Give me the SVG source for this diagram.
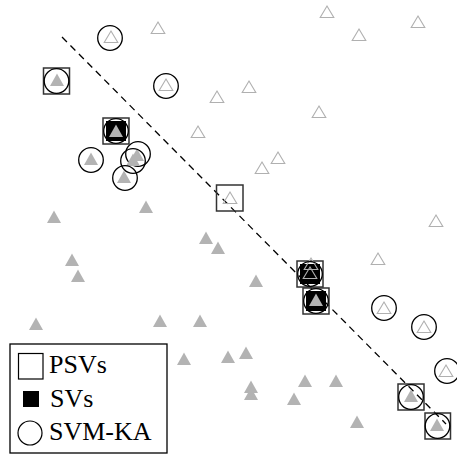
<svg xmlns="http://www.w3.org/2000/svg" xmlns:xlink="http://www.w3.org/1999/xlink" width="457" height="455" viewBox="0 0 457 455">
<style>
.tf{fill:#b3b3b3;stroke:none}
.to{fill:none;stroke:#b0b0b0;stroke-width:1.1}
.ps{fill:none;stroke:#333;stroke-width:1.5}
.sv{fill:#000;stroke:none}
.ka{fill:none;stroke:#000;stroke-width:1.3}
.bd{fill:none;stroke:#000;stroke-width:1.3;stroke-dasharray:7 5}
.lg{font-family:"Liberation Serif","Times New Roman",serif;font-size:26px;fill:#000}
</style>
<defs>
<path id="f" class="tf" d="M0,-6.5 L7,6 L-7,6 Z"/>
<path id="o" class="to" d="M0,-6 L6.8,5.5 L-6.8,5.5 Z"/>
</defs>
<rect width="457" height="455" fill="#fff"/>
<g id="connectors">
<line class="bd" x1="62" y1="37" x2="446" y2="424"/>
</g>
<g id="open-points">
<use href="#o" x="158" y="28"/>
<use href="#o" x="217" y="97"/>
<use href="#o" x="198" y="132"/>
<use href="#o" x="327" y="12"/>
<use href="#o" x="359" y="35"/>
<use href="#o" x="418" y="22"/>
<use href="#o" x="249" y="87"/>
<use href="#o" x="319" y="112"/>
<use href="#o" x="278" y="158"/>
<use href="#o" x="262" y="168"/>
<use href="#o" x="436" y="221"/>
<use href="#o" x="378" y="259"/>
</g>
<g id="filled-points">
<use href="#f" x="146" y="207"/>
<use href="#f" x="54" y="217"/>
<use href="#f" x="72" y="260"/>
<use href="#f" x="78" y="276"/>
<use href="#f" x="206" y="238"/>
<use href="#f" x="218" y="248"/>
<use href="#f" x="256" y="281"/>
<use href="#f" x="36" y="324"/>
<use href="#f" x="160" y="321"/>
<use href="#f" x="200" y="321"/>
<use href="#f" x="184" y="359"/>
<use href="#f" x="228" y="357"/>
<use href="#f" x="246" y="353"/>
<use href="#f" x="251" y="387"/>
<use href="#f" x="251" y="394"/>
<use href="#f" x="305" y="381"/>
<use href="#f" x="336" y="381"/>
<use href="#f" x="294" y="399"/>
<use href="#f" x="357" y="422"/>
</g>
<g id="p1"><use href="#o" x="111" y="37"/><circle class="ka" cx="110" cy="38" r="12.3"/></g>
<g id="p2"><use href="#o" x="166" y="85"/><circle class="ka" cx="166" cy="86" r="12.3"/></g>
<g id="p3"><use href="#o" x="384" y="308"/><circle class="ka" cx="384" cy="308" r="12.3"/></g>
<g id="p4"><use href="#o" x="424" y="327"/><circle class="ka" cx="424" cy="327" r="12.3"/></g>
<g id="p5"><use href="#o" x="446" y="371"/><circle class="ka" cx="447" cy="371" r="12.3"/></g>
<g id="p6"><use href="#f" x="91" y="159"/><circle class="ka" cx="91" cy="160" r="12.3"/></g>
<g id="p7"><use href="#f" x="137" y="155"/><circle class="ka" cx="138" cy="154" r="12.3"/></g>
<g id="p8"><use href="#f" x="133" y="160"/><circle class="ka" cx="133" cy="161" r="12.3"/></g>
<g id="p9"><use href="#f" x="124" y="177"/><circle class="ka" cx="125" cy="178" r="12.3"/></g>
<g id="p10"><rect class="ps" x="43.5" y="68" width="26" height="26"/><use href="#f" x="57" y="80"/><circle class="ka" cx="56.5" cy="81" r="12.3"/></g>
<g id="p11"><rect class="ps" x="103" y="118" width="26" height="26"/><rect class="sv" x="106" y="121" width="20" height="20"/><use href="#f" x="116" y="131"/><circle class="ka" cx="116" cy="131" r="12.3"/></g>
<g id="p12"><rect class="ps" x="216.5" y="185" width="26.5" height="26"/><use href="#o" x="230" y="198"/></g>
<g id="p13"><rect class="ps" x="297" y="261" width="26" height="26"/><rect class="sv" x="300" y="264" width="20" height="20"/><use href="#o" x="311" y="264"/><use href="#o" x="310" y="273"/><circle class="ka" cx="310" cy="274" r="12.3"/></g>
<g id="p14"><rect class="ps" x="303" y="288" width="26" height="26"/><rect class="sv" x="306" y="291" width="20" height="20"/><use href="#f" x="316" y="300"/><circle class="ka" cx="316" cy="301" r="12.3"/></g>
<g id="p15"><rect class="ps" x="398" y="384" width="26" height="26"/><use href="#f" x="411" y="396"/><circle class="ka" cx="411" cy="397" r="12.3"/></g>
<g id="p16"><rect class="ps" x="425" y="413" width="25.5" height="26"/><use href="#f" x="437" y="425"/><circle class="ka" cx="437.5" cy="426" r="12.3"/></g>
<g id="legend">
<rect x="10" y="344" width="157" height="109" fill="#fff" stroke="#000" stroke-width="1.3"/>
<rect x="18.5" y="353.5" width="24.5" height="25.5" fill="none" stroke="#000" stroke-width="1.2"/>
<text class="lg" x="49" y="373">PSVs</text>
<rect x="23" y="391" width="16" height="16" fill="#000"/>
<text class="lg" x="50" y="407">SVs</text>
<circle cx="30" cy="433" r="12" fill="none" stroke="#000" stroke-width="1.2"/>
<text class="lg" x="49" y="440">SVM-KA</text>
</g>
</svg>
